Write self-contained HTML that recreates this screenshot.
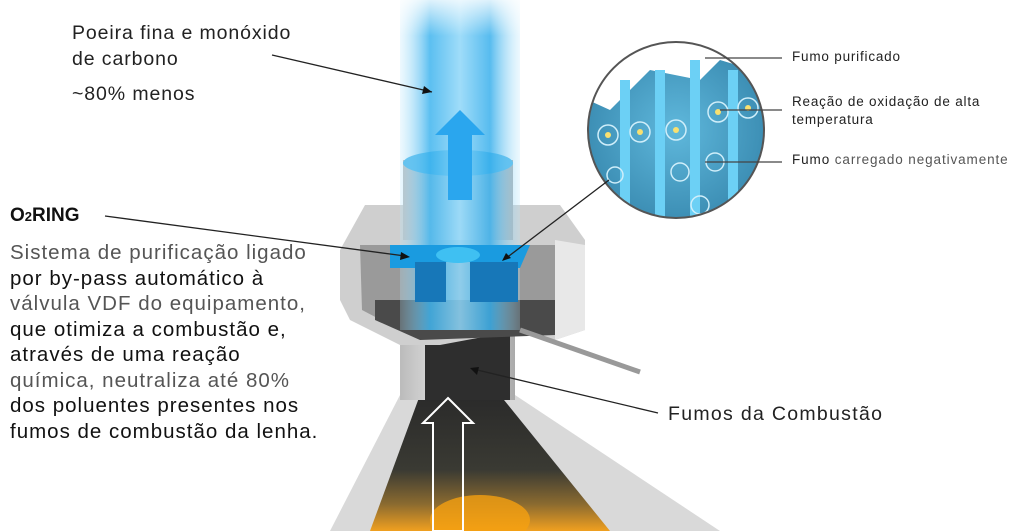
<!DOCTYPE html>
<html><head><meta charset="utf-8"><style>
html,body{margin:0;padding:0;background:#fff;width:1024px;height:531px;overflow:hidden}
body{position:relative;font-family:"Liberation Sans",sans-serif}
.t{position:absolute;white-space:nowrap}
</style></head><body>
<svg width="1024" height="531" style="position:absolute;left:0;top:0">
<defs>
<linearGradient id="beam" x1="0" x2="1" y1="0" y2="0">
<stop offset="0" stop-color="#b9e6fb" stop-opacity="0.3"/><stop offset="0.25" stop-color="#3fb4ee"/><stop offset="0.5" stop-color="#8ed6f8"/><stop offset="0.75" stop-color="#3ab0ec"/><stop offset="1" stop-color="#b9e6fb" stop-opacity="0.3"/></linearGradient>
<linearGradient id="beamv" x1="0" x2="0" y1="0" y2="1"><stop offset="0" stop-color="#fff" stop-opacity="0.8"/><stop offset="0.3" stop-color="#fff" stop-opacity="0"/></linearGradient>
<linearGradient id="cyl" x1="0" x2="1"><stop offset="0" stop-color="#bbb"/><stop offset="0.5" stop-color="#eee"/><stop offset="1" stop-color="#aaa"/></linearGradient>
<linearGradient id="fire" x1="0" x2="0" y1="0" y2="1"><stop offset="0" stop-color="#2a2a2a"/><stop offset="0.55" stop-color="#3a3a33"/><stop offset="0.8" stop-color="#8a6a30"/><stop offset="1" stop-color="#f0a020"/></linearGradient>
<radialGradient id="circ" cx="0.5" cy="0.5" r="0.5"><stop offset="0" stop-color="#5fb8dc"/><stop offset="1" stop-color="#3d8fb5"/></radialGradient>
<clipPath id="cc"><circle cx="676" cy="130" r="88"/></clipPath>
</defs>
<polygon points="400,395 515,395 720,531 330,531" fill="#d9d9d9"/>
<polygon points="420,395 500,395 610,531 370,531" fill="url(#fire)"/>
<ellipse cx="480" cy="520" rx="50" ry="25" fill="#f5a010" opacity="0.8"/>
<rect x="400" y="330" width="115" height="70" fill="url(#cyl)"/>
<rect x="425" y="320" width="85" height="80" fill="#2e2e2e"/>
<polygon points="365,205 560,205 585,240 585,330 555,340 520,330 440,345 400,345 350,320 340,300 340,250" fill="#cfcfcf"/>
<polygon points="360,245 560,245 560,330 400,330 362,310" fill="#9a9a9a"/>
<polygon points="375,300 555,300 555,335 420,340 375,320" fill="#4a4a4a"/>
<polygon points="555,240 585,245 585,330 555,340" fill="#e8e8e8"/>
<line x1="520" y1="330" x2="640" y2="372" stroke="#999" stroke-width="5"/>
<rect x="403" y="160" width="110" height="80" fill="url(#cyl)"/>
<ellipse cx="458" cy="163" rx="55" ry="13" fill="#41b4ea"/>
<rect x="400" y="0" width="120" height="330" fill="url(#beam)" opacity="0.85"/>
<rect x="400" y="0" width="120" height="120" fill="url(#beamv)"/>
<path d="M390,245 L530,245 L520,268 L488,268 L488,300 L470,300 L470,262 L446,262 L446,300 L415,300 L415,268 L390,268 Z" fill="#1a9be0"/>
<rect x="415" y="262" width="31" height="40" fill="#1777b8"/>
<rect x="470" y="262" width="48" height="40" fill="#1777b8"/>
<ellipse cx="458" cy="255" rx="22" ry="8" fill="#3fc0f2"/>
<polygon points="460,110 485,135 472,135 472,200 448,200 448,135 435,135" fill="#2aa6ee"/>
<polygon points="448,398 473,423 463,423 463,531 433,531 433,423 423,423" fill="none" stroke="#fff" stroke-width="2"/>
<circle cx="676" cy="130" r="88" fill="url(#circ)"/>
<g clip-path="url(#cc)">
<polygon points="588,40 770,40 770,75 720,60 700,80 650,70 610,110 588,100" fill="#fff"/>
<g fill="#6cd0f5"><rect x="620" y="80" width="10" height="160"/><rect x="655" y="70" width="10" height="170"/><rect x="690" y="60" width="10" height="180"/><rect x="728" y="70" width="10" height="170"/></g>
<g fill="none" stroke="#cfeefa" stroke-width="1.5"><circle cx="608" cy="135" r="10"/><circle cx="640" cy="132" r="10"/><circle cx="676" cy="130" r="10"/><circle cx="718" cy="112" r="10"/><circle cx="748" cy="108" r="10"/><circle cx="615" cy="175" r="8"/><circle cx="680" cy="172" r="9"/><circle cx="715" cy="162" r="9"/><circle cx="700" cy="205" r="9"/></g>
<g fill="#f8e070"><circle cx="608" cy="135" r="3"/><circle cx="640" cy="132" r="3"/><circle cx="676" cy="130" r="3"/><circle cx="718" cy="112" r="3"/><circle cx="748" cy="108" r="3"/></g>
</g>
<circle cx="676" cy="130" r="88" fill="none" stroke="#555" stroke-width="2"/>
<g stroke="#222" stroke-width="1.3" fill="none">
<line x1="272" y1="55" x2="432" y2="92"/>
<line x1="105" y1="216" x2="405" y2="256"/>
<line x1="609" y1="180" x2="505" y2="259"/>
<line x1="658" y1="413" x2="473" y2="369"/>
</g>
<g stroke="#444" stroke-width="1.3"><line x1="705" y1="58" x2="782" y2="58"/><line x1="720" y1="110" x2="782" y2="110"/><line x1="705" y1="162" x2="782" y2="162"/></g>
<g fill="#111"><polygon points="432,92 424,86 422,94"/><polygon points="410,257 401,252 400,260"/><polygon points="502,261 506,253 511,258"/><polygon points="470,368 479,367 477,375"/></g>
</svg>
<div class="t" style="left:72px;top:20px;font-size:19.5px;letter-spacing:0.9px;color:#222;line-height:26px">Poeira fina e monóxido<br>de carbono</div>
<div class="t" style="left:72px;top:83px;font-size:19.5px;letter-spacing:0.9px;color:#222">~80% menos</div>
<div class="t" style="left:10px;top:205px;font-size:19px;font-weight:bold;color:#111">O<span style="font-size:13px">2</span>RING</div>
<div class="t" style="left:10px;top:240px;font-size:20.5px;line-height:25.5px;letter-spacing:1px">
<span style="color:#555">Sistema de purificação ligado</span><br><span style="color:#111">por by-pass automático à</span><br><span style="color:#555">válvula VDF do equipamento,</span><br><span style="color:#111">que otimiza a combustão e,</span><br><span style="color:#111">através de uma reação</span><br><span style="color:#555">química, neutraliza até 80%</span><br><span style="color:#111">dos poluentes presentes nos</span><br><span style="color:#111">fumos de combustão da lenha.</span></div>
<div class="t" style="left:668px;top:403px;font-size:19.5px;letter-spacing:1.3px;color:#222">Fumos da Combustão</div>
<div class="t" style="left:792px;top:49px;font-size:13.5px;letter-spacing:0.8px;color:#222">Fumo purificado</div>
<div class="t" style="left:792px;top:93px;font-size:13.5px;letter-spacing:0.8px;color:#222;line-height:18px">Reação de oxidação de alta<br>temperatura</div>
<div class="t" style="left:792px;top:152px;font-size:13.5px;letter-spacing:0.9px;color:#222">Fumo <span style="color:#555">carregado negativamente</span></div>
</body></html>
